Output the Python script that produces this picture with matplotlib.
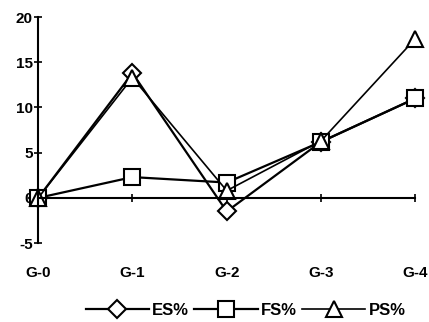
import matplotlib.pyplot as plt
import numpy as np

plt.rcParams['font.family'] = ['Liberation Sans', 'DejaVu Sans']
plt.rcParams['font.weight'] = 'bold'
plt.rcParams['axes.unicode_minus'] = False

groups = ["G-0", "G-1", "G-2", "G-3", "G-4"]
es = [0, 13.8, -1.5, 6.2, 11.0]
fs = [0, 2.3, 1.7, 6.2, 11.0]
ps = [0, 13.3, 0.8, 6.3, 17.6]

x = np.arange(len(groups))

fig = plt.figure(figsize=(4.29, 3.22), dpi=100)
ax = fig.add_axes([0.089, 0.245, 0.879, 0.702])

ax.plot(x, es, color='black', lw=1.6, marker='D', ms=9, mfc='white', mec='black', mew=1.5, label='ES%', clip_on=False)
ax.plot(x, fs, color='black', lw=1.6, marker='s', ms=12, mfc='white', mec='black', mew=1.5, label='FS%', clip_on=False)
ax.plot(x, ps, color='black', lw=1.2, marker='^', ms=12, mfc='white', mec='black', mew=1.5, label='PS%', clip_on=False)

ax.set_xlim(0, 4)
ax.set_ylim(-5, 20)
ax.set_yticks([-5, 0, 5, 10, 15, 20])
ax.set_xticks(x)
ax.set_xticklabels(groups)

ax.spines['top'].set_visible(False)
ax.spines['right'].set_visible(False)
ax.spines['bottom'].set_position(('data', 0))
ax.spines['left'].set_linewidth(1.5)
ax.spines['bottom'].set_linewidth(1.5)
ax.tick_params(axis='y', direction='inout', length=6, width=1.2, labelsize=11, pad=1)
ax.tick_params(axis='x', direction='inout', length=6, width=1.2, labelsize=11, pad=46)
for lab in ax.get_xticklabels() + ax.get_yticklabels():
    lab.set_fontweight('bold')

ax.legend(loc='upper center', bbox_to_anchor=(0.55, -0.2), ncol=3, frameon=False,
          handlelength=3.8, columnspacing=0.3, handletextpad=0.2,
          prop={'weight': 'bold', 'size': 12})

fig.savefig('out.png', dpi=100)
